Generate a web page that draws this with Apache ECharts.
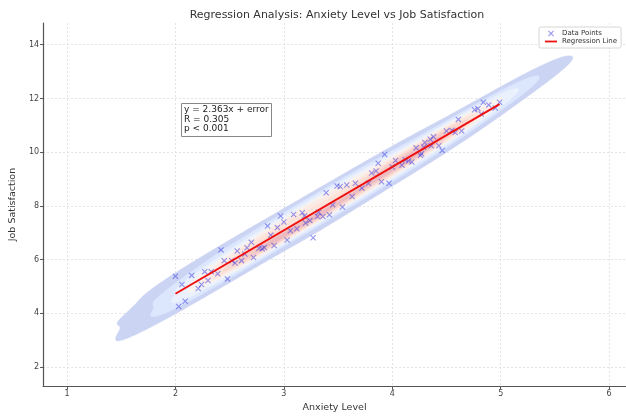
<!DOCTYPE html>
<html>
<head>
<meta charset="utf-8">
<script src="https://cdn.jsdelivr.net/npm/echarts@6/dist/echarts.min.js"></script>
<style>
html, body { margin: 0; padding: 0; background: #ffffff; }
#chart { width: 626px; height: 418px; }
</style>
</head>
<body>
<div id="chart"></div>
<script>
// Observations: anxiety level (x) and job satisfaction (y)
const anxiety = [
  2.00, 2.03, 2.09, 2.06, 2.15, 2.21, 2.24, 2.27, 2.30, 2.33,
  2.39, 2.42, 2.48, 2.45, 2.52, 2.55, 2.57, 2.61, 2.66, 2.72,
  2.64, 2.70, 2.77, 2.80, 2.82, 2.85, 2.88, 2.91, 2.94, 2.97,
  3.00, 3.03, 3.06, 3.09, 3.12, 3.17, 3.19, 3.20, 3.24, 3.27,
  3.31, 3.32, 3.36, 3.39, 3.42, 3.45, 3.49, 3.52, 3.54, 3.58,
  3.63, 3.66, 3.72, 3.78, 3.81, 3.85, 3.87, 3.90, 3.93, 3.97,
  4.00, 4.03, 4.09, 4.12, 4.15, 4.18, 4.22, 4.26, 4.27, 4.29,
  4.30, 4.35, 4.36, 4.38, 4.43, 4.46, 4.50, 4.55, 4.58, 4.61,
  4.64, 4.76, 4.79, 4.82, 4.84, 4.89, 4.95, 4.99
];
const satisfaction = [
  5.38, 4.25, 4.45, 5.07, 5.41, 4.92, 5.07, 5.55, 5.22, 5.55,
  5.47, 6.36, 5.28, 5.96, 5.96, 5.87, 6.32, 5.96, 6.44, 6.08,
  6.21, 6.64, 6.42, 6.40, 6.45, 7.25, 6.91, 6.52, 7.19, 7.62,
  7.40, 6.73, 7.07, 7.68, 7.15, 7.74, 7.62, 7.36, 7.45, 6.81,
  7.60, 7.76, 7.60, 8.49, 7.67, 8.04, 8.74, 8.72, 7.96, 8.78,
  8.35, 8.84, 8.66, 8.84, 9.22, 9.30, 9.59, 8.90, 9.91, 8.84,
  9.45, 9.69, 9.51, 9.72, 9.67, 9.63, 10.16, 9.88, 9.94, 10.18,
  10.36, 10.48, 10.24, 10.57, 10.24, 10.06, 10.79, 10.81, 10.73, 11.22,
  10.79, 11.58, 11.62, 11.42, 11.86, 11.76, 11.64, 11.86
];

// Fitted line and summary statistics
const slope = 2.363;
const intercept = 0;
const statLines = ['y = 2.363x + error', 'R = 0.305', 'p < 0.001'];

// Tick values
const xTicks = [1, 2, 3, 4, 5, 6];
const yTicks = [2, 4, 6, 8, 10, 12, 14];

// Axis extents
const X_MIN = 0.779, X_MAX = 6.156;
const Y_MIN = 1.287, Y_MAX = 14.81;

const FONT = 'DejaVu Sans';

// coolwarm colormap anchors
const COOLWARM = [
  [0.0, 59, 76, 192], [0.125, 98, 130, 234], [0.25, 141, 176, 254],
  [0.375, 184, 208, 249], [0.5, 221, 221, 221], [0.625, 245, 196, 172],
  [0.75, 244, 154, 123], [0.875, 222, 96, 77], [1.0, 180, 4, 38]
];
// colormap sample blended over white
function coolwarmOnWhite(t, alpha) {
  t = Math.max(0, Math.min(1, t));
  let k = 0;
  while (k < COOLWARM.length - 2 && t > COOLWARM[k + 1][0]) k++;
  const a = COOLWARM[k], b = COOLWARM[k + 1];
  const f = (t - a[0]) / (b[0] - a[0]);
  const c = [1, 2, 3].map(i => {
    const v = a[i] + (b[i] - a[i]) * f;
    return Math.round(255 + (v - 255) * alpha);
  });
  return 'rgb(' + c[0] + ',' + c[1] + ',' + c[2] + ')';
}

// Gaussian KDE (Scott bandwidth) on a grid with iso-proportion contour levels
const NX = 240, NY = 240, N_LEVELS = 10, THRESH = 0.05, FILL_ALPHA = 0.3, BW_ADJUST = 1.15;
const GX = [], GY = [];
for (let i = 0; i < NX; i++) GX.push(X_MIN + (X_MAX - X_MIN) * i / (NX - 1));
for (let j = 0; j < NY; j++) GY.push(Y_MIN + (Y_MAX - Y_MIN) * j / (NY - 1));

function densityGrid(xs, ys) {
  const n = xs.length;
  const mx = xs.reduce((s, v) => s + v, 0) / n;
  const my = ys.reduce((s, v) => s + v, 0) / n;
  let sxx = 0, syy = 0, sxy = 0;
  for (let k = 0; k < n; k++) {
    const a = xs[k] - mx, b = ys[k] - my;
    sxx += a * a; syy += b * b; sxy += a * b;
  }
  const f2 = Math.pow(Math.pow(n, -1 / 6) * BW_ADJUST, 2);
  const ca = sxx / (n - 1) * f2, cb = sxy / (n - 1) * f2, cd = syy / (n - 1) * f2;
  const det = ca * cd - cb * cb;
  const ia = cd / det, ib = -cb / det, id = ca / det;
  const dens = new Float64Array(NX * NY);
  for (let j = 0; j < NY; j++) {
    for (let i = 0; i < NX; i++) {
      let s = 0;
      for (let k = 0; k < n; k++) {
        const u = GX[i] - xs[k], v = GY[j] - ys[k];
        const q = ia * u * u + 2 * ib * u * v + id * v * v;
        if (q < 60) s += Math.exp(-0.5 * q);
      }
      dens[j * NX + i] = s;
    }
  }
  return dens;
}

function isoLevels(dens) {
  const sorted = Array.from(dens).sort((a, b) => b - a);
  let total = 0;
  for (const v of sorted) total += v;
  const cum = new Float64Array(sorted.length);
  let acc = 0;
  for (let i = 0; i < sorted.length; i++) { acc += sorted[i]; cum[i] = acc / total; }
  const search = v => {
    let lo = 0, hi = cum.length;
    while (lo < hi) { const mid = (lo + hi) >> 1; if (cum[mid] < v) lo = mid + 1; else hi = mid; }
    return Math.min(lo, cum.length - 1);
  };
  const levels = [];
  for (let l = 0; l < N_LEVELS; l++) {
    const p = THRESH + (1 - THRESH) * l / (N_LEVELS - 1);
    levels.push(sorted[search(1 - p)]);
  }
  return levels;
}

// Marching squares: closed loops of the iso-line at a given density
function isoLoops(dens, level) {
  const val = (i, j) => dens[j * NX + i];
  const pts = {};
  const adj = {};
  function edgePoint(key, i0, j0, i1, j1) {
    if (!pts[key]) {
      const a = val(i0, j0), b = val(i1, j1);
      const t = (level - a) / (b - a);
      pts[key] = [GX[i0] + (GX[i1] - GX[i0]) * t, GY[j0] + (GY[j1] - GY[j0]) * t];
    }
    return key;
  }
  function link(a, b) {
    (adj[a] = adj[a] || []).push(b);
    (adj[b] = adj[b] || []).push(a);
  }
  for (let j = 0; j < NY - 1; j++) {
    for (let i = 0; i < NX - 1; i++) {
      const c0 = val(i, j) >= level ? 1 : 0;
      const c1 = val(i + 1, j) >= level ? 1 : 0;
      const c2 = val(i + 1, j + 1) >= level ? 1 : 0;
      const c3 = val(i, j + 1) >= level ? 1 : 0;
      const code = c0 | (c1 << 1) | (c2 << 2) | (c3 << 3);
      if (code === 0 || code === 15) continue;
      const B = () => edgePoint('h' + i + ',' + j, i, j, i + 1, j);
      const R = () => edgePoint('v' + (i + 1) + ',' + j, i + 1, j, i + 1, j + 1);
      const T = () => edgePoint('h' + i + ',' + (j + 1), i, j + 1, i + 1, j + 1);
      const L = () => edgePoint('v' + i + ',' + j, i, j, i, j + 1);
      switch (code) {
        case 1: case 14: link(L(), B()); break;
        case 2: case 13: link(B(), R()); break;
        case 3: case 12: link(L(), R()); break;
        case 4: case 11: link(R(), T()); break;
        case 6: case 9: link(B(), T()); break;
        case 7: case 8: link(L(), T()); break;
        case 5: case 10: {
          const centre = (val(i, j) + val(i + 1, j) + val(i + 1, j + 1) + val(i, j + 1)) / 4 >= level;
          if ((code === 5) === centre) { link(L(), T()); link(B(), R()); }
          else { link(L(), B()); link(R(), T()); }
          break;
        }
      }
    }
  }
  const seen = {};
  const loops = [];
  for (const start in adj) {
    if (seen[start]) continue;
    const loop = [];
    let prev = null, cur = start;
    while (cur && !seen[cur]) {
      seen[cur] = true;
      loop.push(pts[cur]);
      const nb = adj[cur];
      const next = nb[0] !== prev && !seen[nb[0]] ? nb[0] : (nb[1] !== undefined && !seen[nb[1]] ? nb[1] : null);
      prev = cur;
      cur = next;
    }
    if (loop.length > 2) loops.push(loop);
  }
  return loops;
}

const dens = densityGrid(anxiety, satisfaction);
const levels = isoLevels(dens);
const bandContours = [];
for (let b = 0; b < N_LEVELS - 1; b++) {
  const mid = 0.5 * (levels[b] + levels[b + 1]);
  const t = (mid - levels[0]) / (levels[N_LEVELS - 1] - levels[0]);
  bandContours.push({ loops: isoLoops(dens, levels[b]), color: coolwarmOnWhite(t, FILL_ALPHA) });
}

function renderDensity(params, api) {
  const children = [];
  bandContours.forEach(band => {
    band.loops.forEach(loop => {
      children.push({
        type: 'polygon',
        shape: { points: loop.map(p => api.coord(p)) },
        style: { fill: band.color, stroke: band.color, lineWidth: 0.3 }
      });
    });
  });
  return { type: 'group', children };
}

const points = anxiety.map((x, i) => [x, satisfaction[i]]);
const xLo = Math.min(...anxiety), xHi = Math.max(...anxiety);
const fitLine = [[xLo, slope * xLo + intercept], [xHi, slope * xHi + intercept]];

const CROSS = 'path://M0,1.3L1.3,0L10,8.7L8.7,10Z M8.7,0L10,1.3L1.3,10L0,8.7Z';
const DASH = 'path://M0,0H20V3H0Z';

const chart = echarts.init(document.getElementById('chart'), null, { renderer: 'canvas' });

const axisCommon = {
  type: 'value',
  axisLine: { show: true, onZero: false, lineStyle: { color: '#555', width: 1.2 } },
  splitLine: { show: true, lineStyle: { color: '#dcdcdc', width: 0.8, type: [2, 2] } },
  nameLocation: 'middle',
  nameTextStyle: { fontFamily: FONT, fontSize: 9.5, color: '#333' }
};

chart.setOption({
  animation: false,
  textStyle: { fontFamily: FONT },
  grid: { left: 41, right: 0, top: 23, bottom: 25.5, containLabel: false },
  xAxis: Object.assign({}, axisCommon, {
    min: X_MIN, max: X_MAX,
    name: 'Anxiety Level', nameGap: 15,
    axisTick: { show: true, customValues: xTicks, length: 3, lineStyle: { color: '#555' } },
    axisLabel: { customValues: xTicks, fontFamily: FONT, fontSize: 8, color: '#444', margin: 4 }
  }),
  yAxis: Object.assign({}, axisCommon, {
    min: Y_MIN, max: Y_MAX,
    name: 'Job Satisfaction', nameGap: 22,
    axisTick: { show: true, customValues: yTicks, length: 3, lineStyle: { color: '#555' } },
    axisLabel: { customValues: yTicks, fontFamily: FONT, fontSize: 8, color: '#444', margin: 4 }
  }),
  legend: {
    orient: 'vertical',
    left: 539, top: 27,
    padding: [3, 4, 3, 6],
    itemGap: 1,
    itemWidth: 12, itemHeight: 6,
    backgroundColor: '#ffffff',
    borderColor: '#cccccc', borderWidth: 0.8, borderRadius: 2,
    textStyle: { fontFamily: FONT, fontSize: 7, color: '#333' },
    data: [
      { name: 'Data Points', icon: CROSS },
      { name: 'Regression Line', icon: DASH }
    ]
  },
  graphic: [
    {
      type: 'text', x: 337, y: 15, z: 10,
      style: { text: 'Regression Analysis: Anxiety Level vs Job Satisfaction',
        align: 'center', verticalAlign: 'middle',
        fontFamily: FONT, fontSize: 11, fill: '#333' }
    },
    {
      type: 'rect', z: 10,
      shape: { x: 181.5, y: 103.5, width: 90, height: 33 },
      style: { fill: '#ffffff', stroke: '#888', lineWidth: 1 }
    },
    {
      type: 'text', x: 184, y: 104.5, z: 11,
      style: { text: statLines.join('\n'), align: 'left', verticalAlign: 'top',
        lineHeight: 9.8, fontFamily: FONT, fontSize: 9, fill: '#222' }
    }
  ],
  series: [
    {
      type: 'custom',
      coordinateSystem: 'cartesian2d',
      silent: true,
      clip: true,
      z: 1,
      data: [[X_MIN, Y_MIN]],
      encode: { x: 0, y: 1 },
      renderItem: renderDensity
    },
    {
      name: 'Data Points',
      type: 'scatter',
      z: 3,
      symbol: CROSS,
      symbolSize: 6,
      itemStyle: { color: 'rgba(40,40,225,0.6)' },
      data: points
    },
    {
      name: 'Regression Line',
      type: 'line',
      z: 4,
      showSymbol: false,
      lineStyle: { color: '#f01010', width: 2 },
      itemStyle: { color: '#f01010' },
      data: fitLine
    }
  ]
});
</script>
</body>
</html>
